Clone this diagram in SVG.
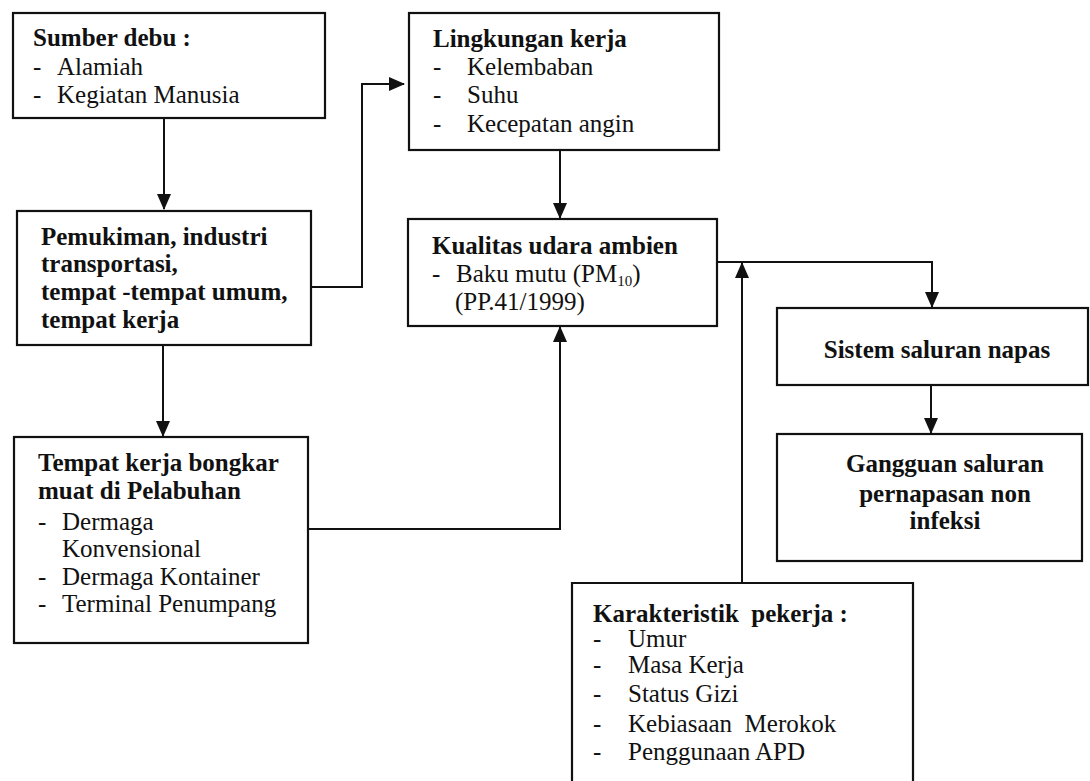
<svg xmlns="http://www.w3.org/2000/svg" width="1090" height="781" viewBox="0 0 1090 781">
<defs>
<marker id="ah" markerUnits="userSpaceOnUse" markerWidth="16" markerHeight="16" viewBox="0 0 16 16" refX="15" refY="8" orient="auto">
<path d="M0,1 L16,8 L0,15 Z" fill="#111"/>
</marker>
</defs>
<style>
.box{fill:none;stroke:#111;stroke-width:2.2}
.con{fill:none;stroke:#111;stroke-width:2}
text{font-family:"Liberation Serif","Times New Roman",serif;font-size:25px;fill:#111}
.b{font-weight:bold}
.c{text-anchor:middle}
</style>
<rect width="1090" height="781" fill="#fff"/>
<g id="sumber">
<rect class="box" x="13" y="13" width="312" height="105"/>
<text class="b" x="33" y="46">Sumber debu :</text>
<text x="33" y="75">-</text><text x="57" y="75">Alamiah</text>
<text x="33" y="103">-</text><text x="57" y="103">Kegiatan Manusia</text>
</g>
<g id="lingkungan">
<rect class="box" x="409" y="13" width="310" height="137"/>
<text class="b" x="433" y="47">Lingkungan kerja</text>
<text x="433" y="75">-</text><text x="467" y="75">Kelembaban</text>
<text x="433" y="103">-</text><text x="467" y="103">Suhu</text>
<text x="433" y="132">-</text><text x="467" y="132">Kecepatan angin</text>
</g>
<g id="pemukiman">
<rect class="box" x="17" y="211" width="294" height="134"/>
<text class="b" x="41" y="245">Pemukiman, industri</text>
<text class="b" x="41" y="272">transportasi,</text>
<text class="b" x="41" y="300">tempat -tempat umum,</text>
<text class="b" x="41" y="328">tempat kerja</text>
</g>
<g id="kualitas">
<rect class="box" x="408" y="219" width="309" height="107"/>
<text class="b" x="432" y="254">Kualitas udara ambien</text>
<text x="432" y="282">-</text><text x="456" y="282">Baku mutu (PM<tspan font-size="15" dy="4">10</tspan><tspan dy="-4">)</tspan></text>
<text x="455" y="310">(PP.41/1999)</text>
</g>
<g id="sistem">
<rect class="box" x="777" y="308" width="311" height="77"/>
<text class="b c" x="937" y="358">Sistem saluran napas</text>
</g>
<g id="gangguan">
<rect class="box" x="777" y="434" width="305" height="127"/>
<text class="b c" x="945" y="472">Gangguan saluran</text>
<text class="b c" x="945" y="502">pernapasan non</text>
<text class="b c" x="945" y="529">infeksi</text>
</g>
<g id="tempat">
<rect class="box" x="14" y="437" width="294" height="206"/>
<text class="b" x="38" y="471">Tempat kerja bongkar</text>
<text class="b" x="38" y="499">muat di Pelabuhan</text>
<text x="38" y="530">-</text><text x="62" y="530">Dermaga</text>
<text x="62" y="557">Konvensional</text>
<text x="38" y="585">-</text><text x="62" y="585">Dermaga Kontainer</text>
<text x="38" y="612">-</text><text x="62" y="612">Terminal Penumpang</text>
</g>
<g id="karakteristik">
<path class="box" d="M572,781 V583 H913 V781"/>
<text class="b" x="593" y="622">Karakteristik&#160; pekerja :</text>
<text x="593" y="647">-</text><text x="628" y="647">Umur</text>
<text x="593" y="673">-</text><text x="628" y="673">Masa Kerja</text>
<text x="593" y="702">-</text><text x="628" y="702">Status Gizi</text>
<text x="593" y="732">-</text><text x="628" y="732">Kebiasaan&#160; Merokok</text>
<text x="593" y="760">-</text><text x="628" y="760">Penggunaan APD</text>
</g>
<g id="connectors">
<path class="con" d="M164,118 V209" marker-end="url(#ah)"/>
<path class="con" d="M311,287 H362 V84 H404" marker-end="url(#ah)"/>
<path class="con" d="M560,150 V218" marker-end="url(#ah)"/>
<path class="con" d="M163,345 V436" marker-end="url(#ah)"/>
<path class="con" d="M308,529 H560 V327" marker-end="url(#ah)"/>
<path class="con" d="M717,262 H932 V307" marker-end="url(#ah)"/>
<path class="con" d="M742,583 V263" marker-end="url(#ah)"/>
<path class="con" d="M931,385 V433" marker-end="url(#ah)"/>
</g>
</svg>
